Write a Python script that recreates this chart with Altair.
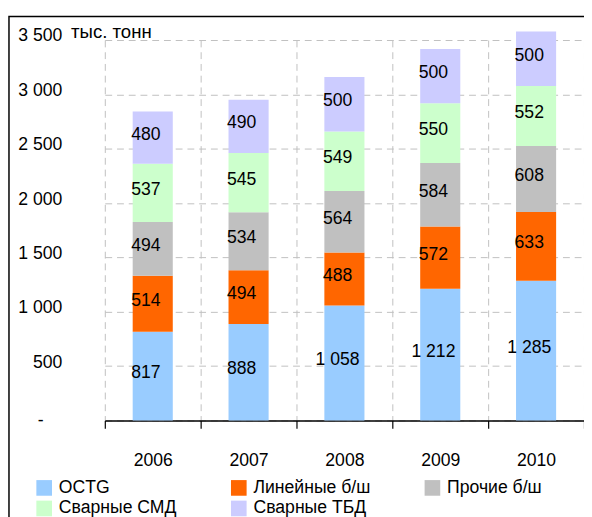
import altair as alt
import pandas as pd

years = ["2006", "2007", "2008", "2009", "2010"]
series = ["OCTG", "Линейные б/ш", "Прочие б/ш", "Сварные СМД", "Сварные ТБД"]
octg = [817, 888, 1058, 1212, 1285]
lineynye = [514, 494, 488, 572, 633]
prochie = [494, 534, 564, 584, 608]
svarnye_smd = [537, 545, 549, 550, 552]
svarnye_tbd = [480, 490, 500, 500, 500]
colors = ["#99CCFF", "#FF6600", "#C0C0C0", "#CCFFCC", "#CCCCFF"]
y_ticks = [0, 500, 1000, 1500, 2000, 2500, 3000, 3500]
unit_title = "тыс. тонн"

rows = []
for si, (name, vals) in enumerate(zip(series, [octg, lineynye, prochie, svarnye_smd, svarnye_tbd])):
    for yr, v in zip(years, vals):
        rows.append({"year": yr, "series": name, "order": si, "value": v,
                     "label": f"{v:,}".replace(",", " ")})
df = pd.DataFrame(rows)

REG = "Liberation Sans, Arial"

x_axis = alt.Axis(
    title=None, labelAngle=0, labelFont=REG, labelFontSize=18, labelColor="black",
    labelPadding=24, domainColor="black", domainWidth=1.5, tickColor="black",
    tickWidth=1.2, tickSize=8, tickBand="extent", grid=True, gridColor="#BFBFBF",
    gridDash=[7, 5], gridWidth=1,
)
y_axis = alt.Axis(
    values=y_ticks, domain=False, ticks=False, grid=True, gridColor="#BFBFBF",
    gridDash=[7, 5], gridWidth=1, labelFont=REG, labelFontSize=18,
    labelColor="black",
    labelOffset={"condition": {"test": "datum.value === 0", "value": 0}, "value": -4},
    labelPadding={"condition": {"test": "datum.value === 0", "value": 63}, "value": 44},
    labelExpr="datum.value == 0 ? '-' : replace(format(datum.value, ','), ',', ' ')",
    title=unit_title, titleAngle=0, titleAlign="left", titleBaseline="alphabetic",
    titleX=-35, titleY=-3, titleFont=REG, titleFontSize=19, titleFontWeight="normal",
    titleColor="black",
)

x_enc = alt.X("year:N", sort=years, scale=alt.Scale(paddingInner=0, paddingOuter=0), axis=x_axis)
y_scale = alt.Scale(domain=[0, 3500], nice=False, zero=True)

base = alt.Chart(df).transform_stack(
    stack="value", groupby=["year"], as_=["y0", "y1"],
    sort=[alt.SortField("order", "ascending")],
).transform_calculate(mid="(datum.y0 + datum.y1) / 2")

legend = alt.Legend(
    title=None, orient="none", legendX=-71, legendY=449, columns=3,
    direction="horizontal",
    symbolType="square", symbolSize=256, symbolStrokeWidth=0,
    labelFont=REG, labelFontSize=18, labelColor="black", labelOffset=6,
    columnPadding=54, rowPadding=3, labelLimit=300,
)

bars = base.mark_bar(size=41).encode(
    x=x_enc,
    y=alt.Y("y0:Q", scale=y_scale, axis=y_axis),
    y2="y1:Q",
    color=alt.Color("series:N", sort=series,
                    scale=alt.Scale(domain=series, range=colors),
                    legend=legend),
)

labels = base.mark_text(font=REG, fontSize=18, color="black", dx=-7, dy=-3).encode(
    x=x_enc,
    y=alt.Y("mid:Q", scale=y_scale, axis=y_axis),
    text="label:N",
)

frame = alt.Chart(pd.DataFrame({"f": [0]})).mark_rect(
    fillOpacity=0, stroke="black", strokeWidth=1.5
).encode(x=alt.value(-98), x2=alt.value(800), y=alt.value(-24), y2=alt.value(800))

chart = alt.layer(frame, bars, labels).properties(
    width=490, height=389,
    autosize=alt.AutoSizeParams(type="none"),
    padding={"left": 99, "top": 27, "right": 0, "bottom": 93},
).configure_view(stroke=None)

chart.save("out.html", embed_options={"renderer": "svg", "actions": False})
